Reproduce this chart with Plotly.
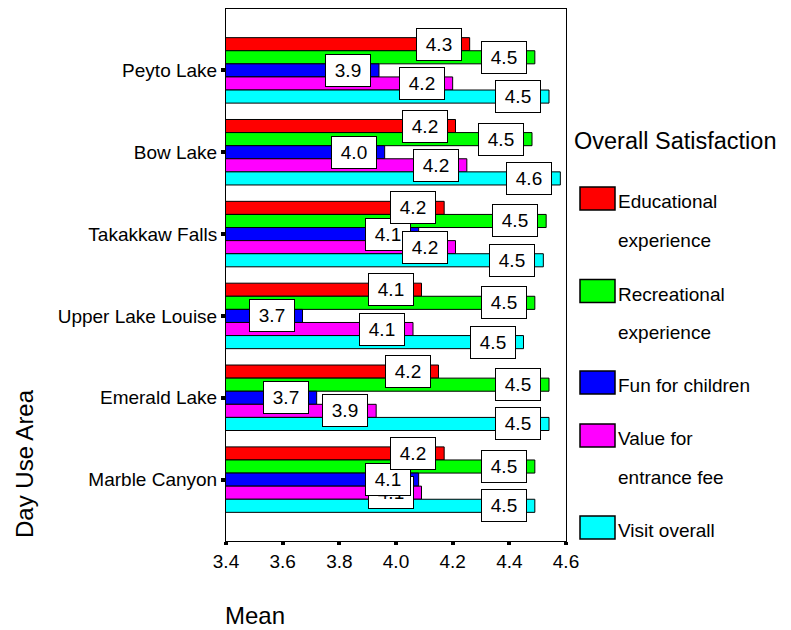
import plotly.graph_objects as go

areas = ["Peyto Lake", "Bow Lake", "Takakkaw Falls", "Upper Lake Louise", "Emerald Lake", "Marble Canyon"]
series_names = ["Educational experience", "Recreational experience", "Fun for children",
                "Value for entrance fee", "Visit overall"]
legend_lines = [["Educational", "experience"], ["Recreational", "experience"], ["Fun for children"],
                ["Value for", "entrance fee"], ["Visit overall"]]
colors = ["#FF0000", "#00FF00", "#0000FF", "#FF00FF", "#00FFFF"]

educational = [4.26, 4.21, 4.17, 4.09, 4.15, 4.17]
recreational = [4.49, 4.48, 4.53, 4.49, 4.54, 4.49]
fun_children = [3.94, 3.96, 4.08, 3.67, 3.72, 4.08]
value_fee = [4.20, 4.25, 4.21, 4.06, 3.93, 4.09]
visit_overall = [4.54, 4.58, 4.52, 4.45, 4.54, 4.49]
all_series = [educational, recreational, fun_children, value_fee, visit_overall]

x_ticks = [3.4, 3.6, 3.8, 4.0, 4.2, 4.4, 4.6]

# order in which value labels are stacked (last one on top)
label_order = [[2, 0, 1, 3, 4]] * 5 + [[3, 2, 0, 1, 4]]

FONT = "Arial, Liberation Sans, sans-serif"
OFF = 8  # page body margin
W, H = 791 - OFF, 630 - OFF
ML, MT = 226 - OFF, 1
MR = W - (566 - OFF)
MB = H - (541 - OFF)
PW, PH = W - ML - MR, H - MT - MB

def px(x):
    return (x - OFF - ML) / PW

def py(y):
    return (H - MB - (y - OFF)) / PH

fig = go.Figure()
for name, vals, col in zip(series_names, all_series, colors):
    fig.add_trace(go.Bar(y=areas, x=vals, orientation="h", name=name,
                         marker=dict(color=col, line=dict(color="black", width=1)),
                         showlegend=False))

bargap = 0.2
nser = len(all_series)
bw = (1 - bargap) / nser
annotations = []
for i in range(len(areas)):
    for j in label_order[i]:
        vals = all_series[j]
        annotations.append(dict(
            x=vals[i], y=i + (j - (nser - 1) / 2) * bw, xref="x", yref="y",
            text=f"{vals[i]:.1f}", showarrow=False, xanchor="right", yanchor="middle",
            xshift=-8, bgcolor="white", bordercolor="black", borderwidth=1,
            borderpad=2, width=40, height=27,
            font=dict(family=FONT, size=19, color="black")))

# axis titles
annotations.append(dict(x=px(223), y=py(615), xref="paper", yref="paper", text="Mean",
                        showarrow=False, xanchor="left", yanchor="middle",
                        font=dict(family=FONT, size=24, color="black")))
annotations.append(dict(x=px(24), y=py(464), xref="paper", yref="paper", text="Day Use Area",
                        showarrow=False, xanchor="center", yanchor="middle", textangle=-90,
                        font=dict(family=FONT, size=24, color="black")))

# legend
annotations.append(dict(x=px(572), y=py(141), xref="paper", yref="paper",
                        text="Overall Satisfaction", showarrow=False, xanchor="left",
                        yanchor="middle", font=dict(family=FONT, size=23.5, color="black")))
shapes = []
swatch_centers = [198.5, 291, 382.5, 435.5, 527.5]
for lines, col, cy in zip(legend_lines, colors, swatch_centers):
    shapes.append(dict(type="rect", xref="paper", yref="paper",
                       x0=px(580), x1=px(615), y0=py(cy + 11.5), y1=py(cy - 11.5),
                       fillcolor=col, line=dict(color="black", width=1.5)))
    for k, line in enumerate(lines):
        annotations.append(dict(x=px(616), y=py(cy + 3 + 38.5 * k), xref="paper", yref="paper",
                                text=line, showarrow=False, xanchor="left", yanchor="middle",
                                font=dict(family=FONT, size=19, color="black")))

fig.update_layout(
    width=W, height=H, margin=dict(l=ML, r=MR, t=MT, b=MB),
    paper_bgcolor="white", plot_bgcolor="white",
    barmode="group", bargap=bargap, bargroupgap=0,
    font=dict(family=FONT, size=19, color="black"),
    annotations=annotations, shapes=shapes,
)
fig.update_xaxes(range=[3.4, 4.6], tickvals=x_ticks, ticktext=[f"{v:.1f}" for v in x_ticks],
                 showgrid=False, zeroline=False, showline=True, linecolor="black", linewidth=1,
                 mirror=True, ticks="outside", ticklen=3, tickwidth=4, tickcolor="black",
                 tickfont=dict(family=FONT, size=19, color="black"))
fig.update_yaxes(categoryorder="array", categoryarray=areas, range=[5.75, -0.75],
                 showgrid=False, zeroline=False, showline=True, linecolor="black", linewidth=1,
                 mirror=True, ticks="outside", ticklen=4, tickwidth=4, tickcolor="black",
                 tickfont=dict(family=FONT, size=19, color="black"))

fig.write_html("out.html")
